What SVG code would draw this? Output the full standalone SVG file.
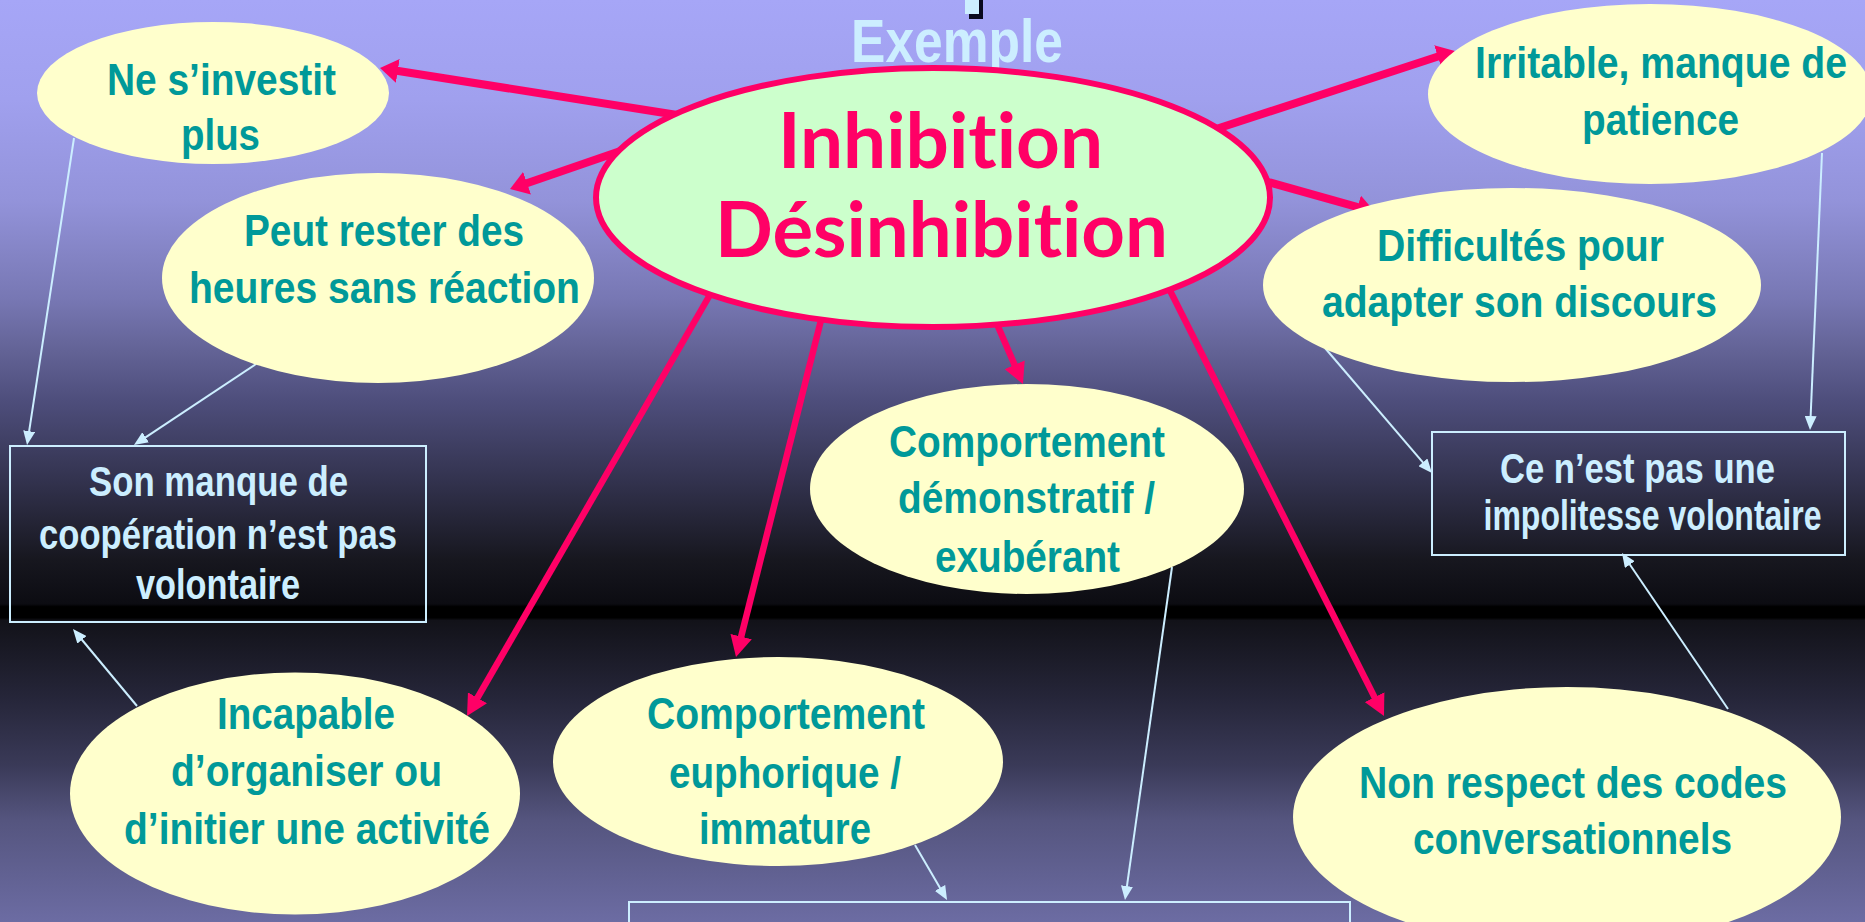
<svg xmlns="http://www.w3.org/2000/svg" width="1865" height="922" viewBox="0 0 1865 922">
<defs>
<linearGradient id="bg" x1="0" y1="0" x2="0" y2="922" gradientUnits="userSpaceOnUse">
<stop offset="0" stop-color="#A6A6F7"/>
<stop offset="0.108" stop-color="#A0A0EE"/>
<stop offset="0.217" stop-color="#9393DA"/>
<stop offset="0.325" stop-color="#7777B3"/>
<stop offset="0.38" stop-color="#636396"/>
<stop offset="0.434" stop-color="#4E4E7C"/>
<stop offset="0.52" stop-color="#33334F"/>
<stop offset="0.607" stop-color="#17171F"/>
<stop offset="0.655" stop-color="#0C0C12"/>
<stop offset="0.658" stop-color="#000000"/>
<stop offset="0.670" stop-color="#000000"/>
<stop offset="0.673" stop-color="#121219"/>
<stop offset="0.759" stop-color="#26263A"/>
<stop offset="0.83" stop-color="#3A3A58"/>
<stop offset="0.89" stop-color="#55557F"/>
<stop offset="1" stop-color="#6C6CA3"/>
</linearGradient>
<marker id="ra" markerUnits="userSpaceOnUse" markerWidth="18" markerHeight="24" viewBox="0 0 18 24" refX="1" refY="12" orient="auto">
<path d="M0,0 L18,12 L0,24 z" fill="#FF0066"/>
</marker>
<marker id="rb" markerUnits="userSpaceOnUse" markerWidth="21" markerHeight="22" viewBox="0 0 21 22" refX="1" refY="11" orient="auto">
<path d="M0,0 L21,11 L0,22 z" fill="#FF0066"/>
</marker>
<marker id="ba" markerUnits="userSpaceOnUse" markerWidth="14" markerHeight="12" viewBox="0 0 14 12" refX="1" refY="6" orient="auto">
<path d="M0,0 L14,6 L0,12 z" fill="#CCEEFF"/>
</marker>
</defs>
<style>
.yel { fill: #FFFFCC; }
.box { fill: none; stroke: #CCEEFF; stroke-width: 2; }
.nt { font-family: "Liberation Sans", Arial, sans-serif; font-weight: bold; font-size: 45px; fill: #009999; text-anchor: middle; }
.bt { font-family: "Liberation Sans", Arial, sans-serif; font-weight: bold; font-size: 42px; fill: #CCEEFF; text-anchor: middle; }
.ct { font-family: Lato, "Open Sans", sans-serif; font-weight: bold; font-size: 76px; fill: #FF0066; text-anchor: middle; font-variant-ligatures: none; font-feature-settings: "liga" 0, "clig" 0, "dlig" 0; }
.red1 { stroke: #FF0066; stroke-width: 8; fill: none; marker-end: url(#ra); }
.red2 { stroke: #FF0066; stroke-width: 6.5; fill: none; marker-end: url(#rb); }
.blue { stroke: #CCEEFF; stroke-width: 2; fill: none; marker-end: url(#ba); }
</style>
<rect x="0" y="0" width="1865" height="922" fill="url(#bg)"/>

<g id="title">
<rect x="969" y="0" width="14" height="19" fill="#0A0A1E"/>
<rect x="965" y="0" width="14" height="14" fill="#CCEEFF"/>
<text x="957" y="62" font-family="Liberation Sans, Arial, sans-serif" font-weight="bold" font-size="62" fill="#CCEEFF" text-anchor="middle" textLength="212" lengthAdjust="spacingAndGlyphs">Exemple</text>
</g>

<g id="connectors">
<line class="red1" x1="690" y1="117" x2="396.8" y2="70.7"/>
<line class="red1" x1="632" y1="147" x2="526.1" y2="183.5"/>
<line class="red1" x1="1204" y1="133" x2="1438.8" y2="56.3"/>
<line class="red1" x1="1254" y1="178" x2="1358.6" y2="207.4"/>
<line class="red2" x1="718.5" y1="280" x2="477" y2="698.7"/>
<line class="red2" x1="824.7" y1="305.5" x2="740.9" y2="637.6"/>
<line class="red2" x1="990" y1="308" x2="1015" y2="365.7"/>
<line class="red2" x1="1163" y1="276.6" x2="1375" y2="698.1"/>
<line class="blue" x1="74" y1="138" x2="29" y2="432.2"/>
<line class="blue" x1="256" y1="364" x2="144.8" y2="437.8"/>
<line class="blue" x1="137" y1="706" x2="81.3" y2="639"/>
<line class="blue" x1="1822" y1="153" x2="1810.6" y2="417"/>
<line class="blue" x1="1325" y1="348" x2="1423.5" y2="463.1"/>
<line class="blue" x1="1728" y1="709" x2="1629.3" y2="563.8"/>
<line class="blue" x1="1172" y1="567" x2="1126.8" y2="887.1"/>
<line class="blue" x1="915" y1="845" x2="940.5" y2="888.8"/>
</g>

<g id="n-investit">
<ellipse class="yel" cx="213" cy="93" rx="176" ry="71"/>
<text class="nt" x="221.5" y="95" textLength="229" lengthAdjust="spacingAndGlyphs">Ne s’investit</text>
<text class="nt" x="220.5" y="150" textLength="79" lengthAdjust="spacingAndGlyphs">plus</text>
</g>

<g id="n-rester">
<ellipse class="yel" cx="378" cy="278" rx="216" ry="105"/>
<text class="nt" x="384" y="246" textLength="280" lengthAdjust="spacingAndGlyphs">Peut rester des</text>
<text class="nt" x="384.5" y="303" textLength="391" lengthAdjust="spacingAndGlyphs">heures sans réaction</text>
</g>

<g id="n-irritable">
<ellipse class="yel" cx="1650" cy="94" rx="222" ry="90"/>
<text class="nt" x="1661" y="78" textLength="372" lengthAdjust="spacingAndGlyphs">Irritable, manque de</text>
<text class="nt" x="1660.5" y="135" textLength="157" lengthAdjust="spacingAndGlyphs">patience</text>
</g>

<g id="n-difficultes">
<ellipse class="yel" cx="1512" cy="285" rx="249" ry="97"/>
<text class="nt" x="1520.5" y="261" textLength="287" lengthAdjust="spacingAndGlyphs">Difficultés pour</text>
<text class="nt" x="1519.5" y="317" textLength="395" lengthAdjust="spacingAndGlyphs">adapter son discours</text>
</g>

<g id="n-demonstratif">
<ellipse class="yel" cx="1027" cy="489" rx="217" ry="105"/>
<text class="nt" x="1027" y="457" textLength="276" lengthAdjust="spacingAndGlyphs">Comportement</text>
<text class="nt" x="1026.5" y="513" textLength="257" lengthAdjust="spacingAndGlyphs">démonstratif /</text>
<text class="nt" x="1027.5" y="572" textLength="185" lengthAdjust="spacingAndGlyphs">exubérant</text>
</g>

<g id="n-incapable">
<ellipse class="yel" cx="295" cy="793.5" rx="225" ry="121"/>
<text class="nt" x="306" y="729" textLength="178" lengthAdjust="spacingAndGlyphs">Incapable</text>
<text class="nt" x="306.5" y="786" textLength="271" lengthAdjust="spacingAndGlyphs">d’organiser ou</text>
<text class="nt" x="307" y="844" textLength="366" lengthAdjust="spacingAndGlyphs">d’initier une activité</text>
</g>

<g id="n-euphorique">
<ellipse class="yel" cx="778" cy="761.5" rx="225" ry="104.5"/>
<text class="nt" x="786" y="729" textLength="278" lengthAdjust="spacingAndGlyphs">Comportement</text>
<text class="nt" x="785" y="788" textLength="232" lengthAdjust="spacingAndGlyphs">euphorique /</text>
<text class="nt" x="785" y="844" textLength="172" lengthAdjust="spacingAndGlyphs">immature</text>
</g>

<g id="n-respect">
<ellipse class="yel" cx="1567" cy="817" rx="274" ry="130"/>
<text class="nt" x="1573" y="798" textLength="428" lengthAdjust="spacingAndGlyphs">Non respect des codes</text>
<text class="nt" x="1572.5" y="854" textLength="319" lengthAdjust="spacingAndGlyphs">conversationnels</text>
</g>

<g id="b-cooperation">
<rect class="box" x="10" y="446" width="416" height="176"/>
<text class="bt" x="218.5" y="496" textLength="259" lengthAdjust="spacingAndGlyphs">Son manque de</text>
<text class="bt" x="218" y="549" textLength="358" lengthAdjust="spacingAndGlyphs">coopération n’est pas</text>
<text class="bt" x="218" y="599" textLength="164" lengthAdjust="spacingAndGlyphs">volontaire</text>
</g>

<g id="b-impolitesse">
<rect class="box" x="1432" y="432" width="413" height="123"/>
<text class="bt" x="1637.5" y="483" textLength="275" lengthAdjust="spacingAndGlyphs">Ce n’est pas une</text>
<text class="bt" x="1652.5" y="530" textLength="338" lengthAdjust="spacingAndGlyphs">impolitesse volontaire</text>
</g>

<g id="b-bottom">
<rect class="box" x="629" y="902" width="721" height="40"/>
</g>

<g id="n-central">
<ellipse cx="933" cy="197.5" rx="337" ry="129.5" fill="#CCFFCC" stroke="#FF0066" stroke-width="6"/>
<text class="ct" x="940.5" y="168" textLength="325" lengthAdjust="spacingAndGlyphs">Inhibition</text>
<text class="ct" x="941.5" y="257" textLength="453" lengthAdjust="spacingAndGlyphs">Désinhibition</text>
</g>
</svg>
